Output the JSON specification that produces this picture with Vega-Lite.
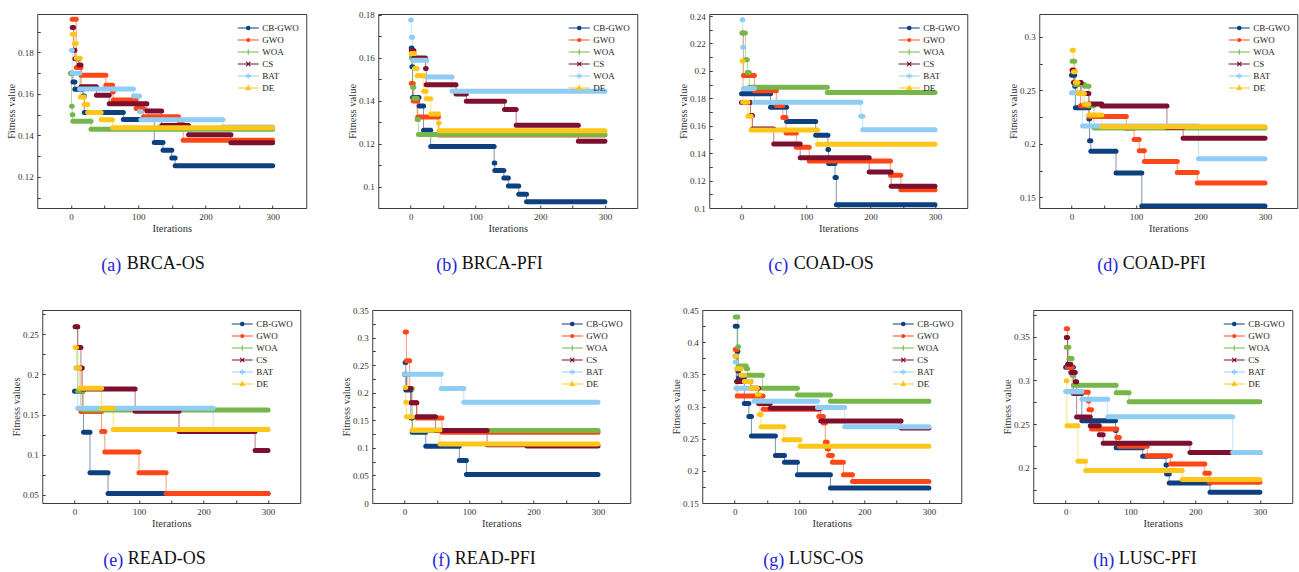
{
  "$schema": "https://vega.github.io/schema/vega-lite/v6.json",
  "padding": {"left": 5, "top": 10, "right": 4, "bottom": 2},
  "config": {
    "font": "Liberation Serif",
    "view": {"stroke": "#3c3c3c", "strokeWidth": 1},
    "axis": {"domain": false, "grid": false, "tickColor": "#3c3c3c", "tickSize": -3, "labelFont": "Liberation Serif", "labelFontSize": 9, "labelColor": "#333333", "titleFont": "Liberation Serif", "titleFontSize": 10.5, "titleFontWeight": "normal", "titleColor": "#333333", "labelPadding": 7},
    "axisX": {"titlePadding": 2},
    "axisY": {"titlePadding": 2, "minExtent": 19, "maxExtent": 19},
    "legend": {"symbolSize": 144, "labelOffset": 7, "rowPadding": -1, "offset": 7, "padding": 0, "labelFont": "Liberation Serif", "labelFontSize": 9, "labelColor": "#222222", "symbolStrokeWidth": 1.1},
    "title": {"orient": "bottom", "anchor": "start", "frame": "group", "font": "Liberation Serif", "fontSize": 18, "fontWeight": "normal", "color": "#2323dc", "offset": 23},
    "style": {"group-title": {"font": "Liberation Serif", "fontSize": 18, "fontWeight": "normal"}}
  },
  "datasets": {
    "a": [
      {"s":"CB-GWO","x":0,"x2":3,"y":0.170},{"s":"CB-GWO","x":3,"x2":6,"y":0.1657},{"s":"CB-GWO","x":6,"x2":18,"y":0.1622},{"s":"CB-GWO","x":18,"x2":20,"y":0.159},{"s":"CB-GWO","x":20,"x2":78,"y":0.151},{"s":"CB-GWO","x":78,"x2":124,"y":0.1477},{"s":"CB-GWO","x":124,"x2":137,"y":0.1366},{"s":"CB-GWO","x":137,"x2":150,"y":0.1328},{"s":"CB-GWO","x":150,"x2":155,"y":0.1291},{"s":"CB-GWO","x":155,"x2":300,"y":0.1254},
      {"s":"GWO","x":2,"x2":8,"y":0.196},{"s":"GWO","x":8,"x2":15,"y":0.1727},{"s":"GWO","x":15,"x2":52,"y":0.169},{"s":"GWO","x":52,"x2":62,"y":0.1642},{"s":"GWO","x":62,"x2":63,"y":0.1609},{"s":"GWO","x":63,"x2":97,"y":0.157},{"s":"GWO","x":97,"x2":108,"y":0.153},{"s":"GWO","x":108,"x2":160,"y":0.149},{"s":"GWO","x":160,"x2":167,"y":0.1452},{"s":"GWO","x":167,"x2":300,"y":0.1376},
      {"s":"WOA","x":0,"x2":1,"y":0.17},{"s":"WOA","x":1,"x2":2,"y":0.154},{"s":"WOA","x":2,"x2":3,"y":0.150},{"s":"WOA","x":3,"x2":30,"y":0.1468},{"s":"WOA","x":30,"x2":300,"y":0.143},
      {"s":"CS","x":2,"x2":4,"y":0.192},{"s":"CS","x":4,"x2":6,"y":0.181},{"s":"CS","x":6,"x2":12,"y":0.1769},{"s":"CS","x":12,"x2":15,"y":0.1739},{"s":"CS","x":15,"x2":38,"y":0.1634},{"s":"CS","x":38,"x2":57,"y":0.1593},{"s":"CS","x":57,"x2":113,"y":0.1552},{"s":"CS","x":113,"x2":135,"y":0.1518},{"s":"CS","x":135,"x2":175,"y":0.1448},{"s":"CS","x":175,"x2":238,"y":0.1403},{"s":"CS","x":238,"x2":300,"y":0.1364},
      {"s":"BAT","x":1,"x2":2,"y":0.181},{"s":"BAT","x":2,"x2":13,"y":0.170},{"s":"BAT","x":13,"x2":93,"y":0.1624},{"s":"BAT","x":93,"x2":102,"y":0.159},{"s":"BAT","x":102,"x2":104,"y":0.1515},{"s":"BAT","x":104,"x2":226,"y":0.1475},{"s":"BAT","x":226,"x2":300,"y":0.144},
      {"s":"DE","x":2,"x2":5,"y":0.1888},{"s":"DE","x":5,"x2":8,"y":0.1843},{"s":"DE","x":8,"x2":14,"y":0.1772},{"s":"DE","x":14,"x2":20,"y":0.1585},{"s":"DE","x":20,"x2":25,"y":0.1549},{"s":"DE","x":25,"x2":45,"y":0.151},{"s":"DE","x":45,"x2":62,"y":0.1475},{"s":"DE","x":62,"x2":300,"y":0.1437}
    ],
    "b": [
      {"s":"CB-GWO","x":1,"x2":2,"y":0.1645},{"s":"CB-GWO","x":2,"x2":3,"y":0.1557},{"s":"CB-GWO","x":3,"x2":13,"y":0.1414},{"s":"CB-GWO","x":13,"x2":20,"y":0.1375},{"s":"CB-GWO","x":20,"x2":31,"y":0.1262},{"s":"CB-GWO","x":31,"x2":129,"y":0.1186},{"s":"CB-GWO","x":129,"x2":130,"y":0.111},{"s":"CB-GWO","x":130,"x2":144,"y":0.1074},{"s":"CB-GWO","x":144,"x2":151,"y":0.104},{"s":"CB-GWO","x":151,"x2":167,"y":0.1002},{"s":"CB-GWO","x":167,"x2":179,"y":0.0964},{"s":"CB-GWO","x":179,"x2":300,"y":0.0929},
      {"s":"GWO","x":1,"x2":4,"y":0.1479},{"s":"GWO","x":4,"x2":11,"y":0.1398},{"s":"GWO","x":11,"x2":43,"y":0.1324},{"s":"GWO","x":43,"x2":300,"y":0.124},
      {"s":"WOA","x":1,"x2":3,"y":0.16},{"s":"WOA","x":3,"x2":5,"y":0.1462},{"s":"WOA","x":5,"x2":10,"y":0.1411},{"s":"WOA","x":10,"x2":12,"y":0.1312},{"s":"WOA","x":12,"x2":300,"y":0.1242},
      {"s":"CS","x":1,"x2":5,"y":0.1633},{"s":"CS","x":5,"x2":23,"y":0.1598},{"s":"CS","x":23,"x2":24,"y":0.1549},{"s":"CS","x":24,"x2":70,"y":0.1474},{"s":"CS","x":70,"x2":86,"y":0.1431},{"s":"CS","x":86,"x2":145,"y":0.1397},{"s":"CS","x":145,"x2":163,"y":0.1358},{"s":"CS","x":163,"x2":259,"y":0.1285},{"s":"CS","x":259,"x2":300,"y":0.1211},
      {"s":"BAT","x":0,"x2":1,"y":0.1775},{"s":"BAT","x":1,"x2":3,"y":0.1695},{"s":"BAT","x":3,"x2":25,"y":0.1588},{"s":"BAT","x":25,"x2":64,"y":0.151},{"s":"BAT","x":64,"x2":300,"y":0.1443},
      {"s":"DE","x":1,"x2":6,"y":0.1619},{"s":"DE","x":6,"x2":10,"y":0.1549},{"s":"DE","x":10,"x2":20,"y":0.1516},{"s":"DE","x":20,"x2":24,"y":0.1443},{"s":"DE","x":24,"x2":31,"y":0.1409},{"s":"DE","x":31,"x2":43,"y":0.1338},{"s":"DE","x":43,"x2":44,"y":0.1296},{"s":"DE","x":44,"x2":300,"y":0.126}
    ],
    "c": [
      {"s":"CB-GWO","x":0,"x2":45,"y":0.1834},{"s":"CB-GWO","x":45,"x2":70,"y":0.1735},{"s":"CB-GWO","x":70,"x2":115,"y":0.1631},{"s":"CB-GWO","x":115,"x2":134,"y":0.153},{"s":"CB-GWO","x":134,"x2":135,"y":0.1427},{"s":"CB-GWO","x":135,"x2":145,"y":0.1325},{"s":"CB-GWO","x":145,"x2":147,"y":0.1222},{"s":"CB-GWO","x":147,"x2":300,"y":0.1024},
      {"s":"GWO","x":1,"x2":3,"y":0.2277},{"s":"GWO","x":3,"x2":20,"y":0.1966},{"s":"GWO","x":20,"x2":54,"y":0.1855},{"s":"GWO","x":54,"x2":64,"y":0.1747},{"s":"GWO","x":64,"x2":69,"y":0.166},{"s":"GWO","x":69,"x2":85,"y":0.1547},{"s":"GWO","x":85,"x2":105,"y":0.1443},{"s":"GWO","x":105,"x2":231,"y":0.1342},{"s":"GWO","x":231,"x2":247,"y":0.1239},{"s":"GWO","x":247,"x2":300,"y":0.1133},
      {"s":"WOA","x":1,"x2":6,"y":0.2277},{"s":"WOA","x":6,"x2":9,"y":0.2082},{"s":"WOA","x":9,"x2":12,"y":0.1988},{"s":"WOA","x":12,"x2":133,"y":0.188},{"s":"WOA","x":133,"x2":300,"y":0.1843},
      {"s":"CS","x":0,"x2":14,"y":0.1769},{"s":"CS","x":14,"x2":17,"y":0.1675},{"s":"CS","x":17,"x2":50,"y":0.1576},{"s":"CS","x":50,"x2":91,"y":0.1467},{"s":"CS","x":91,"x2":198,"y":0.1366},{"s":"CS","x":198,"x2":232,"y":0.1263},{"s":"CS","x":232,"x2":300,"y":0.1159},
      {"s":"BAT","x":1,"x2":2,"y":0.2373},{"s":"BAT","x":2,"x2":3,"y":0.2173},{"s":"BAT","x":3,"x2":20,"y":0.1872},{"s":"BAT","x":20,"x2":185,"y":0.1771},{"s":"BAT","x":185,"x2":188,"y":0.167},{"s":"BAT","x":188,"x2":300,"y":0.1571},
      {"s":"DE","x":1,"x2":2,"y":0.2072},{"s":"DE","x":2,"x2":10,"y":0.1771},{"s":"DE","x":10,"x2":15,"y":0.167},{"s":"DE","x":15,"x2":118,"y":0.1569},{"s":"DE","x":118,"x2":300,"y":0.1465}
    ],
    "d": [
      {"s":"CB-GWO","x":0,"x2":5,"y":0.2643},{"s":"CB-GWO","x":5,"x2":6,"y":0.254},{"s":"CB-GWO","x":6,"x2":27,"y":0.2339},{"s":"CB-GWO","x":27,"x2":28,"y":0.2233},{"s":"CB-GWO","x":28,"x2":30,"y":0.2028},{"s":"CB-GWO","x":30,"x2":69,"y":0.1932},{"s":"CB-GWO","x":69,"x2":109,"y":0.1727},{"s":"CB-GWO","x":109,"x2":300,"y":0.1419},
      {"s":"GWO","x":1,"x2":5,"y":0.2683},{"s":"GWO","x":5,"x2":14,"y":0.2575},{"s":"GWO","x":14,"x2":27,"y":0.2357},{"s":"GWO","x":27,"x2":85,"y":0.2255},{"s":"GWO","x":85,"x2":97,"y":0.2145},{"s":"GWO","x":97,"x2":105,"y":0.204},{"s":"GWO","x":105,"x2":113,"y":0.1935},{"s":"GWO","x":113,"x2":164,"y":0.1835},{"s":"GWO","x":164,"x2":195,"y":0.1733},{"s":"GWO","x":195,"x2":300,"y":0.1634},
      {"s":"WOA","x":1,"x2":5,"y":0.2773},{"s":"WOA","x":5,"x2":20,"y":0.2556},{"s":"WOA","x":20,"x2":27,"y":0.254},{"s":"WOA","x":27,"x2":35,"y":0.2357},{"s":"WOA","x":35,"x2":300,"y":0.2148},
      {"s":"CS","x":1,"x2":3,"y":0.269},{"s":"CS","x":3,"x2":15,"y":0.2575},{"s":"CS","x":15,"x2":27,"y":0.2472},{"s":"CS","x":27,"x2":47,"y":0.2372},{"s":"CS","x":47,"x2":148,"y":0.2355},{"s":"CS","x":148,"x2":173,"y":0.2152},{"s":"CS","x":173,"x2":300,"y":0.2053},
      {"s":"BAT","x":0,"x2":17,"y":0.2478},{"s":"BAT","x":17,"x2":197,"y":0.2168},{"s":"BAT","x":197,"x2":300,"y":0.186},
      {"s":"DE","x":1,"x2":3,"y":0.2876},{"s":"DE","x":3,"x2":6,"y":0.2675},{"s":"DE","x":6,"x2":10,"y":0.2575},{"s":"DE","x":10,"x2":20,"y":0.2472},{"s":"DE","x":20,"x2":27,"y":0.237},{"s":"DE","x":27,"x2":47,"y":0.227},{"s":"DE","x":47,"x2":300,"y":0.2161}
    ],
    "e": [
      {"s":"CB-GWO","x":0,"x2":13,"y":0.1789},{"s":"CB-GWO","x":13,"x2":14,"y":0.1537},{"s":"CB-GWO","x":14,"x2":24,"y":0.1281},{"s":"CB-GWO","x":24,"x2":52,"y":0.0777},{"s":"CB-GWO","x":52,"x2":300,"y":0.0517},
      {"s":"GWO","x":4,"x2":10,"y":0.2079},{"s":"GWO","x":10,"x2":42,"y":0.1537},{"s":"GWO","x":42,"x2":47,"y":0.129},{"s":"GWO","x":47,"x2":100,"y":0.1033},{"s":"GWO","x":100,"x2":142,"y":0.0777},{"s":"GWO","x":142,"x2":300,"y":0.0517},
      {"s":"WOA","x":1,"x2":5,"y":0.2591},{"s":"WOA","x":5,"x2":13,"y":0.1789},{"s":"WOA","x":13,"x2":300,"y":0.1558},
      {"s":"CS","x":1,"x2":5,"y":0.2591},{"s":"CS","x":5,"x2":10,"y":0.2335},{"s":"CS","x":10,"x2":12,"y":0.2079},{"s":"CS","x":12,"x2":94,"y":0.1818},{"s":"CS","x":94,"x2":162,"y":0.1541},{"s":"CS","x":162,"x2":280,"y":0.129},{"s":"CS","x":280,"x2":300,"y":0.1054},
      {"s":"BAT","x":2,"x2":5,"y":0.2079},{"s":"BAT","x":5,"x2":215,"y":0.1578},{"s":"BAT","x":215,"x2":300,"y":0.1314},
      {"s":"DE","x":1,"x2":3,"y":0.2335},{"s":"DE","x":3,"x2":8,"y":0.2079},{"s":"DE","x":8,"x2":42,"y":0.1826},{"s":"DE","x":42,"x2":60,"y":0.1578},{"s":"DE","x":60,"x2":300,"y":0.1314}
    ],
    "f": [
      {"s":"CB-GWO","x":1,"x2":2,"y":0.2548},{"s":"CB-GWO","x":2,"x2":10,"y":0.2048},{"s":"CB-GWO","x":10,"x2":12,"y":0.1542},{"s":"CB-GWO","x":12,"x2":33,"y":0.1283},{"s":"CB-GWO","x":33,"x2":85,"y":0.103},{"s":"CB-GWO","x":85,"x2":96,"y":0.0771},{"s":"CB-GWO","x":96,"x2":300,"y":0.0518},
      {"s":"GWO","x":1,"x2":3,"y":0.3102},{"s":"GWO","x":3,"x2":8,"y":0.2578},{"s":"GWO","x":8,"x2":10,"y":0.2078},{"s":"GWO","x":10,"x2":19,"y":0.1819},{"s":"GWO","x":19,"x2":58,"y":0.1542},{"s":"GWO","x":58,"x2":300,"y":0.1283},
      {"s":"WOA","x":1,"x2":5,"y":0.2325},{"s":"WOA","x":5,"x2":12,"y":0.2075},{"s":"WOA","x":12,"x2":300,"y":0.1315},
      {"s":"CS","x":0,"x2":3,"y":0.2337},{"s":"CS","x":3,"x2":10,"y":0.2078},{"s":"CS","x":10,"x2":19,"y":0.1819},{"s":"CS","x":19,"x2":48,"y":0.1566},{"s":"CS","x":48,"x2":128,"y":0.1313},{"s":"CS","x":128,"x2":190,"y":0.1055},{"s":"CS","x":190,"x2":300,"y":0.1035},
      {"s":"BAT","x":0,"x2":57,"y":0.2337},{"s":"BAT","x":57,"x2":92,"y":0.2078},{"s":"BAT","x":92,"x2":300,"y":0.1825},
      {"s":"DE","x":1,"x2":2,"y":0.2096},{"s":"DE","x":2,"x2":3,"y":0.1825},{"s":"DE","x":3,"x2":12,"y":0.1566},{"s":"DE","x":12,"x2":55,"y":0.1325},{"s":"DE","x":55,"x2":300,"y":0.1072}
    ],
    "g": [
      {"s":"CB-GWO","x":1,"x2":4,"y":0.4247},{"s":"CB-GWO","x":4,"x2":5,"y":0.3856},{"s":"CB-GWO","x":5,"x2":6,"y":0.3552},{"s":"CB-GWO","x":6,"x2":15,"y":0.3443},{"s":"CB-GWO","x":15,"x2":22,"y":0.3046},{"s":"CB-GWO","x":22,"x2":26,"y":0.2845},{"s":"CB-GWO","x":26,"x2":63,"y":0.2541},{"s":"CB-GWO","x":63,"x2":77,"y":0.2237},{"s":"CB-GWO","x":77,"x2":97,"y":0.2134},{"s":"CB-GWO","x":97,"x2":148,"y":0.1938},{"s":"CB-GWO","x":148,"x2":300,"y":0.1735},
      {"s":"GWO","x":1,"x2":4,"y":0.3887},{"s":"GWO","x":4,"x2":44,"y":0.3165},{"s":"GWO","x":44,"x2":130,"y":0.2959},{"s":"GWO","x":130,"x2":137,"y":0.2845},{"s":"GWO","x":137,"x2":140,"y":0.2745},{"s":"GWO","x":140,"x2":143,"y":0.2443},{"s":"GWO","x":143,"x2":145,"y":0.234},{"s":"GWO","x":145,"x2":151,"y":0.2237},{"s":"GWO","x":151,"x2":168,"y":0.2134},{"s":"GWO","x":168,"x2":182,"y":0.1938},{"s":"GWO","x":182,"x2":300,"y":0.1835},
      {"s":"WOA","x":1,"x2":5,"y":0.4392},{"s":"WOA","x":5,"x2":6,"y":0.3928},{"s":"WOA","x":6,"x2":18,"y":0.3629},{"s":"WOA","x":18,"x2":20,"y":0.3588},{"s":"WOA","x":20,"x2":43,"y":0.3485},{"s":"WOA","x":43,"x2":97,"y":0.3284},{"s":"WOA","x":97,"x2":148,"y":0.318},{"s":"WOA","x":148,"x2":300,"y":0.3082},
      {"s":"CS","x":1,"x2":3,"y":0.3784},{"s":"CS","x":3,"x2":25,"y":0.3387},{"s":"CS","x":25,"x2":37,"y":0.3284},{"s":"CS","x":37,"x2":55,"y":0.3046},{"s":"CS","x":55,"x2":133,"y":0.2974},{"s":"CS","x":133,"x2":257,"y":0.2773},{"s":"CS","x":257,"x2":300,"y":0.2665},
      {"s":"BAT","x":1,"x2":2,"y":0.3691},{"s":"BAT","x":2,"x2":30,"y":0.3284},{"s":"BAT","x":30,"x2":128,"y":0.3082},{"s":"BAT","x":128,"x2":170,"y":0.2985},{"s":"BAT","x":170,"x2":300,"y":0.2686},
      {"s":"DE","x":1,"x2":3,"y":0.3784},{"s":"DE","x":3,"x2":10,"y":0.3588},{"s":"DE","x":10,"x2":15,"y":0.3485},{"s":"DE","x":15,"x2":25,"y":0.3387},{"s":"DE","x":25,"x2":35,"y":0.3284},{"s":"DE","x":35,"x2":38,"y":0.3186},{"s":"DE","x":38,"x2":41,"y":0.2876},{"s":"DE","x":41,"x2":76,"y":0.2686},{"s":"DE","x":76,"x2":101,"y":0.2485},{"s":"DE","x":101,"x2":300,"y":0.2381}
    ],
    "h": [
      {"s":"CB-GWO","x":0,"x2":12,"y":0.3151},{"s":"CB-GWO","x":12,"x2":25,"y":0.2851},{"s":"CB-GWO","x":25,"x2":77,"y":0.2539},{"s":"CB-GWO","x":77,"x2":78,"y":0.2429},{"s":"CB-GWO","x":78,"x2":119,"y":0.2232},{"s":"CB-GWO","x":119,"x2":155,"y":0.2133},{"s":"CB-GWO","x":155,"x2":156,"y":0.2034},{"s":"CB-GWO","x":156,"x2":160,"y":0.1932},{"s":"CB-GWO","x":160,"x2":223,"y":0.1829},{"s":"CB-GWO","x":223,"x2":300,"y":0.1723},
      {"s":"GWO","x":1,"x2":3,"y":0.3591},{"s":"GWO","x":3,"x2":10,"y":0.315},{"s":"GWO","x":10,"x2":35,"y":0.2866},{"s":"GWO","x":35,"x2":36,"y":0.2765},{"s":"GWO","x":36,"x2":40,"y":0.2665},{"s":"GWO","x":40,"x2":79,"y":0.2444},{"s":"GWO","x":79,"x2":83,"y":0.2349},{"s":"GWO","x":83,"x2":126,"y":0.2247},{"s":"GWO","x":126,"x2":162,"y":0.214},{"s":"GWO","x":162,"x2":215,"y":0.2046},{"s":"GWO","x":215,"x2":222,"y":0.1939},{"s":"GWO","x":222,"x2":300,"y":0.1837},
      {"s":"WOA","x":1,"x2":5,"y":0.338},{"s":"WOA","x":5,"x2":10,"y":0.325},{"s":"WOA","x":10,"x2":12,"y":0.306},{"s":"WOA","x":12,"x2":78,"y":0.2946},{"s":"WOA","x":78,"x2":98,"y":0.2858},{"s":"WOA","x":98,"x2":300,"y":0.2756},
      {"s":"CS","x":1,"x2":3,"y":0.3489},{"s":"CS","x":3,"x2":8,"y":0.3185},{"s":"CS","x":8,"x2":15,"y":0.309},{"s":"CS","x":15,"x2":17,"y":0.2984},{"s":"CS","x":17,"x2":38,"y":0.2581},{"s":"CS","x":38,"x2":52,"y":0.2482},{"s":"CS","x":52,"x2":58,"y":0.238},{"s":"CS","x":58,"x2":192,"y":0.2281},{"s":"CS","x":192,"x2":300,"y":0.2178},
      {"s":"BAT","x":0,"x2":25,"y":0.2874},{"s":"BAT","x":25,"x2":65,"y":0.2786},{"s":"BAT","x":65,"x2":258,"y":0.2585},{"s":"BAT","x":258,"x2":300,"y":0.2178},
      {"s":"DE","x":1,"x2":2,"y":0.2995},{"s":"DE","x":2,"x2":19,"y":0.2482},{"s":"DE","x":19,"x2":31,"y":0.2076},{"s":"DE","x":31,"x2":180,"y":0.197},{"s":"DE","x":180,"x2":300,"y":0.1867}
    ]
  },
  "vconcat": [
    {
      "hconcat": [
        {
          "title": {"text": "BRCA-OS", "color": "#111111", "font": "Liberation Serif", "fontSize": 18, "fontWeight": "normal", "frame": "bounds", "dx": 121, "offset": -20},
          "resolve": {"scale": {"color": "independent", "shape": "independent"}, "legend": {"color": "independent", "shape": "independent"}},
          "vconcat": [{
          "width": 269, "height": 194,
          "data": {"name": "a"},
          "title": {"text": "(a)", "dx": 64},
          "encoding": {
            "x": {"field": "x", "type": "quantitative", "scale": {"domain": [-50, 350], "nice": false, "zero": false}, "axis": {"title": "Iterations", "values": [0, 50, 100, 150, 200, 250, 300], "labelExpr": "datum.value % 100 == 0 ? datum.label : ''"}},
            "y": {"field": "y", "type": "quantitative", "scale": {"domain": [0.105, 0.1985], "nice": false, "zero": false}, "axis": {"title": "Fitness value", "values": [0.11, 0.12, 0.13, 0.14, 0.15, 0.16, 0.17, 0.18, 0.19], "labelExpr": "indexof([0.12, 0.14, 0.16, 0.18], datum.value) >= 0 ? format(datum.value, '~g') : ''"}},
            "color": {"field": "s", "type": "nominal", "scale": {"domain": ["CB-GWO", "GWO", "WOA", "CS", "BAT", "DE"], "range": ["#0e3f7e", "#ff4616", "#77b64a", "#7d0f2f", "#8fcdf5", "#ffc61a"]}, "legend": {"title": null, "orient": "top-right", "symbolOpacity": 1}}
          },
          "layer": [
            {"mark": {"type": "point", "filled": false, "opacity": 0, "strokeWidth": 1.1, "clip": true}, "encoding": {"shape": {"field": "s", "type": "nominal", "legend": {"title": null, "orient": "top-right", "symbolOpacity": 1}, "scale": {"domain": ["CB-GWO", "GWO", "WOA", "CS", "BAT", "DE"], "range": ["M-1.75,0H1.75M-0.3,0A0.3,0.3,0,1,0,0.3,0A0.3,0.3,0,1,0,-0.3,0ZM-0.12,0A0.12,0.12,0,1,0,0.12,0A0.12,0.12,0,1,0,-0.12,0Z", "M-1.75,0H1.75M-0.25,0A0.25,0.25,0,1,0,0.25,0A0.25,0.25,0,1,0,-0.25,0ZM-0.1,0A0.1,0.1,0,1,0,0.1,0A0.1,0.1,0,1,0,-0.1,0Z", "M-1.75,0H1.75M0,-0.45V0.45", "M-1.75,0H1.75M-0.35,-0.35L0.35,0.35M-0.35,0.35L0.35,-0.35", "M-1.75,0H1.75M0,-0.45V0.45M-0.39,-0.22L0.39,0.22M-0.39,0.22L0.39,-0.22", "M-1.75,0H1.75M0,-0.4L0.36,0.24L-0.36,0.24ZM0,-0.15L0.13,0.09L-0.13,0.09Z"]}}}},
            {"mark": {"type": "line", "interpolate": "step-after", "strokeWidth": 1, "opacity": 0.55, "clip": true}},
            {"mark": {"type": "rule", "strokeWidth": 5, "strokeCap": "round", "clip": true}, "encoding": {"x2": {"field": "x2"}}}
          ]
          }]
        },
        {
          "title": {"text": "BRCA-PFI", "color": "#111111", "font": "Liberation Serif", "fontSize": 18, "fontWeight": "normal", "frame": "bounds", "dx": 115, "offset": -20},
          "resolve": {"scale": {"color": "independent", "shape": "independent"}, "legend": {"color": "independent", "shape": "independent"}},
          "vconcat": [{
          "width": 259, "height": 194,
          "data": {"name": "b"},
          "title": {"text": "(b)", "dx": 58},
          "encoding": {
            "x": {"field": "x", "type": "quantitative", "scale": {"domain": [-50, 350], "nice": false, "zero": false}, "axis": {"title": "Iterations", "values": [0, 50, 100, 150, 200, 250, 300], "labelExpr": "datum.value % 100 == 0 ? datum.label : ''"}},
            "y": {"field": "y", "type": "quantitative", "scale": {"domain": [0.09, 0.1803], "nice": false, "zero": false}, "axis": {"title": "Fitness value", "values": [0.09, 0.1, 0.11, 0.12, 0.13, 0.14, 0.15, 0.16, 0.17, 0.18], "labelExpr": "indexof([0.1, 0.12, 0.14, 0.16, 0.18], datum.value) >= 0 ? format(datum.value, '~g') : ''"}},
            "color": {"field": "s", "type": "nominal", "scale": {"domain": ["CB-GWO", "GWO", "WOA", "CS", "BAT", "DE"], "range": ["#0e3f7e", "#ff4616", "#77b64a", "#7d0f2f", "#8fcdf5", "#ffc61a"]}, "legend": {"title": null, "orient": "top-right", "symbolOpacity": 1, "labelExpr": "datum.label == 'BAT' ? 'WOA' : datum.label"}}
          },
          "layer": [
            {"mark": {"type": "point", "filled": false, "opacity": 0, "strokeWidth": 1.1, "clip": true}, "encoding": {"shape": {"field": "s", "type": "nominal", "legend": {"title": null, "orient": "top-right", "symbolOpacity": 1, "labelExpr": "datum.label == 'BAT' ? 'WOA' : datum.label"}, "scale": {"domain": ["CB-GWO", "GWO", "WOA", "CS", "BAT", "DE"], "range": ["M-1.75,0H1.75M-0.3,0A0.3,0.3,0,1,0,0.3,0A0.3,0.3,0,1,0,-0.3,0ZM-0.12,0A0.12,0.12,0,1,0,0.12,0A0.12,0.12,0,1,0,-0.12,0Z", "M-1.75,0H1.75M-0.25,0A0.25,0.25,0,1,0,0.25,0A0.25,0.25,0,1,0,-0.25,0ZM-0.1,0A0.1,0.1,0,1,0,0.1,0A0.1,0.1,0,1,0,-0.1,0Z", "M-1.75,0H1.75M0,-0.45V0.45", "M-1.75,0H1.75M-0.35,-0.35L0.35,0.35M-0.35,0.35L0.35,-0.35", "M-1.75,0H1.75M0,-0.45V0.45M-0.39,-0.22L0.39,0.22M-0.39,0.22L0.39,-0.22", "M-1.75,0H1.75M0,-0.4L0.36,0.24L-0.36,0.24ZM0,-0.15L0.13,0.09L-0.13,0.09Z"]}}}},
            {"mark": {"type": "line", "interpolate": "step-after", "strokeWidth": 1, "opacity": 0.55, "clip": true}},
            {"mark": {"type": "rule", "strokeWidth": 5, "strokeCap": "round", "clip": true}, "encoding": {"x2": {"field": "x2"}}}
          ]
          }]
        },
        {
          "title": {"text": "COAD-OS", "color": "#111111", "font": "Liberation Serif", "fontSize": 18, "fontWeight": "normal", "frame": "bounds", "dx": 116, "offset": -20},
          "resolve": {"scale": {"color": "independent", "shape": "independent"}, "legend": {"color": "independent", "shape": "independent"}},
          "vconcat": [{
          "width": 258, "height": 194,
          "data": {"name": "c"},
          "title": {"text": "(c)", "dx": 59},
          "encoding": {
            "x": {"field": "x", "type": "quantitative", "scale": {"domain": [-50, 350], "nice": false, "zero": false}, "axis": {"title": "Iterations", "values": [0, 50, 100, 150, 200, 250, 300], "labelExpr": "datum.value % 100 == 0 ? datum.label : ''"}},
            "y": {"field": "y", "type": "quantitative", "scale": {"domain": [0.1, 0.2415], "nice": false, "zero": false}, "axis": {"title": "Fitness value", "values": [0.1, 0.11, 0.12, 0.13, 0.14, 0.15, 0.16, 0.17, 0.18, 0.19, 0.2, 0.21, 0.22, 0.23, 0.24], "labelExpr": "indexof([0.1, 0.12, 0.14, 0.16, 0.18, 0.2, 0.22, 0.24], datum.value) >= 0 ? format(datum.value, '~g') : ''"}},
            "color": {"field": "s", "type": "nominal", "scale": {"domain": ["CB-GWO", "GWO", "WOA", "CS", "BAT", "DE"], "range": ["#0e3f7e", "#ff4616", "#77b64a", "#7d0f2f", "#8fcdf5", "#ffc61a"]}, "legend": {"title": null, "orient": "top-right", "symbolOpacity": 1}}
          },
          "layer": [
            {"mark": {"type": "point", "filled": false, "opacity": 0, "strokeWidth": 1.1, "clip": true}, "encoding": {"shape": {"field": "s", "type": "nominal", "legend": {"title": null, "orient": "top-right", "symbolOpacity": 1}, "scale": {"domain": ["CB-GWO", "GWO", "WOA", "CS", "BAT", "DE"], "range": ["M-1.75,0H1.75M-0.3,0A0.3,0.3,0,1,0,0.3,0A0.3,0.3,0,1,0,-0.3,0ZM-0.12,0A0.12,0.12,0,1,0,0.12,0A0.12,0.12,0,1,0,-0.12,0Z", "M-1.75,0H1.75M-0.25,0A0.25,0.25,0,1,0,0.25,0A0.25,0.25,0,1,0,-0.25,0ZM-0.1,0A0.1,0.1,0,1,0,0.1,0A0.1,0.1,0,1,0,-0.1,0Z", "M-1.75,0H1.75M0,-0.45V0.45", "M-1.75,0H1.75M-0.35,-0.35L0.35,0.35M-0.35,0.35L0.35,-0.35", "M-1.75,0H1.75M0,-0.45V0.45M-0.39,-0.22L0.39,0.22M-0.39,0.22L0.39,-0.22", "M-1.75,0H1.75M0,-0.4L0.36,0.24L-0.36,0.24ZM0,-0.15L0.13,0.09L-0.13,0.09Z"]}}}},
            {"mark": {"type": "line", "interpolate": "step-after", "strokeWidth": 1, "opacity": 0.55, "clip": true}},
            {"mark": {"type": "rule", "strokeWidth": 5, "strokeCap": "round", "clip": true}, "encoding": {"x2": {"field": "x2"}}}
          ]
          }]
        },
        {
          "title": {"text": "COAD-PFI", "color": "#111111", "font": "Liberation Serif", "fontSize": 18, "fontWeight": "normal", "frame": "bounds", "dx": 115, "offset": -20},
          "resolve": {"scale": {"color": "independent", "shape": "independent"}, "legend": {"color": "independent", "shape": "independent"}},
          "vconcat": [{
          "width": 258, "height": 194,
          "data": {"name": "d"},
          "title": {"text": "(d)", "dx": 58},
          "encoding": {
            "x": {"field": "x", "type": "quantitative", "scale": {"domain": [-50, 350], "nice": false, "zero": false}, "axis": {"title": "Iterations", "values": [0, 50, 100, 150, 200, 250, 300], "labelExpr": "datum.value % 100 == 0 ? datum.label : ''"}},
            "y": {"field": "y", "type": "quantitative", "scale": {"domain": [0.14, 0.3215], "nice": false, "zero": false}, "axis": {"title": "Fitness value", "values": [0.15, 0.175, 0.2, 0.225, 0.25, 0.275, 0.3], "labelExpr": "indexof([0.15, 0.2, 0.25, 0.3], datum.value) >= 0 ? format(datum.value, '~g') : ''"}},
            "color": {"field": "s", "type": "nominal", "scale": {"domain": ["CB-GWO", "GWO", "WOA", "CS", "BAT", "DE"], "range": ["#0e3f7e", "#ff4616", "#77b64a", "#7d0f2f", "#8fcdf5", "#ffc61a"]}, "legend": {"title": null, "orient": "top-right", "symbolOpacity": 1}}
          },
          "layer": [
            {"mark": {"type": "point", "filled": false, "opacity": 0, "strokeWidth": 1.1, "clip": true}, "encoding": {"shape": {"field": "s", "type": "nominal", "legend": {"title": null, "orient": "top-right", "symbolOpacity": 1}, "scale": {"domain": ["CB-GWO", "GWO", "WOA", "CS", "BAT", "DE"], "range": ["M-1.75,0H1.75M-0.3,0A0.3,0.3,0,1,0,0.3,0A0.3,0.3,0,1,0,-0.3,0ZM-0.12,0A0.12,0.12,0,1,0,0.12,0A0.12,0.12,0,1,0,-0.12,0Z", "M-1.75,0H1.75M-0.25,0A0.25,0.25,0,1,0,0.25,0A0.25,0.25,0,1,0,-0.25,0ZM-0.1,0A0.1,0.1,0,1,0,0.1,0A0.1,0.1,0,1,0,-0.1,0Z", "M-1.75,0H1.75M0,-0.45V0.45", "M-1.75,0H1.75M-0.35,-0.35L0.35,0.35M-0.35,0.35L0.35,-0.35", "M-1.75,0H1.75M0,-0.45V0.45M-0.39,-0.22L0.39,0.22M-0.39,0.22L0.39,-0.22", "M-1.75,0H1.75M0,-0.4L0.36,0.24L-0.36,0.24ZM0,-0.15L0.13,0.09L-0.13,0.09Z"]}}}},
            {"mark": {"type": "line", "interpolate": "step-after", "strokeWidth": 1, "opacity": 0.55, "clip": true}},
            {"mark": {"type": "rule", "strokeWidth": 5, "strokeCap": "round", "clip": true}, "encoding": {"x2": {"field": "x2"}}}
          ]
          }]
        }
      ],
      "spacing": 39,
      "resolve": {"scale": {"color": "independent", "shape": "independent"}, "legend": {"color": "independent", "shape": "independent"}}
    },
    {
      "hconcat": [
        {
          "title": {"text": "READ-OS", "color": "#111111", "font": "Liberation Serif", "fontSize": 18, "fontWeight": "normal", "frame": "bounds", "dx": 117, "offset": -20},
          "resolve": {"scale": {"color": "independent", "shape": "independent"}, "legend": {"color": "independent", "shape": "independent"}},
          "vconcat": [{
          "width": 258, "height": 193,
          "data": {"name": "e"},
          "title": {"text": "(e)", "dx": 61},
          "encoding": {
            "x": {"field": "x", "type": "quantitative", "scale": {"domain": [-50, 350], "nice": false, "zero": false}, "axis": {"title": "Iterations", "values": [0, 50, 100, 150, 200, 250, 300], "labelExpr": "datum.value % 100 == 0 ? datum.label : ''"}},
            "y": {"field": "y", "type": "quantitative", "scale": {"domain": [0.04, 0.28], "nice": false, "zero": false}, "axis": {"title": "Fitness values", "values": [0.05, 0.075, 0.1, 0.125, 0.15, 0.175, 0.2, 0.225, 0.25, 0.275], "labelExpr": "indexof([0.05, 0.1, 0.15, 0.2, 0.25], datum.value) >= 0 ? format(datum.value, '~g') : ''"}},
            "color": {"field": "s", "type": "nominal", "scale": {"domain": ["CB-GWO", "GWO", "WOA", "CS", "BAT", "DE"], "range": ["#0e3f7e", "#ff4616", "#77b64a", "#7d0f2f", "#8fcdf5", "#ffc61a"]}, "legend": {"title": null, "orient": "top-right", "symbolOpacity": 1}}
          },
          "layer": [
            {"mark": {"type": "point", "filled": false, "opacity": 0, "strokeWidth": 1.1, "clip": true}, "encoding": {"shape": {"field": "s", "type": "nominal", "legend": {"title": null, "orient": "top-right", "symbolOpacity": 1}, "scale": {"domain": ["CB-GWO", "GWO", "WOA", "CS", "BAT", "DE"], "range": ["M-1.75,0H1.75M-0.3,0A0.3,0.3,0,1,0,0.3,0A0.3,0.3,0,1,0,-0.3,0ZM-0.12,0A0.12,0.12,0,1,0,0.12,0A0.12,0.12,0,1,0,-0.12,0Z", "M-1.75,0H1.75M-0.25,0A0.25,0.25,0,1,0,0.25,0A0.25,0.25,0,1,0,-0.25,0ZM-0.1,0A0.1,0.1,0,1,0,0.1,0A0.1,0.1,0,1,0,-0.1,0Z", "M-1.75,0H1.75M0,-0.45V0.45", "M-1.75,0H1.75M-0.35,-0.35L0.35,0.35M-0.35,0.35L0.35,-0.35", "M-1.75,0H1.75M0,-0.45V0.45M-0.39,-0.22L0.39,0.22M-0.39,0.22L0.39,-0.22", "M-1.75,0H1.75M0,-0.4L0.36,0.24L-0.36,0.24ZM0,-0.15L0.13,0.09L-0.13,0.09Z"]}}}},
            {"mark": {"type": "line", "interpolate": "step-after", "strokeWidth": 1, "opacity": 0.55, "clip": true}},
            {"mark": {"type": "rule", "strokeWidth": 5, "strokeCap": "round", "clip": true}, "encoding": {"x2": {"field": "x2"}}}
          ]
          }]
        },
        {
          "title": {"text": "READ-PFI", "color": "#111111", "font": "Liberation Serif", "fontSize": 18, "fontWeight": "normal", "frame": "bounds", "dx": 114, "offset": -20},
          "resolve": {"scale": {"color": "independent", "shape": "independent"}, "legend": {"color": "independent", "shape": "independent"}},
          "vconcat": [{
          "width": 258, "height": 193,
          "data": {"name": "f"},
          "title": {"text": "(f)", "dx": 60},
          "encoding": {
            "x": {"field": "x", "type": "quantitative", "scale": {"domain": [-50, 350], "nice": false, "zero": false}, "axis": {"title": "Iterations", "values": [0, 50, 100, 150, 200, 250, 300], "labelExpr": "datum.value % 100 == 0 ? datum.label : ''"}},
            "y": {"field": "y", "type": "quantitative", "scale": {"domain": [0, 0.35], "nice": false, "zero": false}, "axis": {"title": "Fitness values", "values": [0, 0.025, 0.05, 0.075, 0.1, 0.125, 0.15, 0.175, 0.2, 0.225, 0.25, 0.275, 0.3, 0.325, 0.35], "labelExpr": "indexof([0, 0.05, 0.1, 0.15, 0.2, 0.25, 0.3, 0.35], datum.value) >= 0 ? format(datum.value, '~g') : ''"}},
            "color": {"field": "s", "type": "nominal", "scale": {"domain": ["CB-GWO", "GWO", "WOA", "CS", "BAT", "DE"], "range": ["#0e3f7e", "#ff4616", "#77b64a", "#7d0f2f", "#8fcdf5", "#ffc61a"]}, "legend": {"title": null, "orient": "top-right", "symbolOpacity": 1}}
          },
          "layer": [
            {"mark": {"type": "point", "filled": false, "opacity": 0, "strokeWidth": 1.1, "clip": true}, "encoding": {"shape": {"field": "s", "type": "nominal", "legend": {"title": null, "orient": "top-right", "symbolOpacity": 1}, "scale": {"domain": ["CB-GWO", "GWO", "WOA", "CS", "BAT", "DE"], "range": ["M-1.75,0H1.75M-0.3,0A0.3,0.3,0,1,0,0.3,0A0.3,0.3,0,1,0,-0.3,0ZM-0.12,0A0.12,0.12,0,1,0,0.12,0A0.12,0.12,0,1,0,-0.12,0Z", "M-1.75,0H1.75M-0.25,0A0.25,0.25,0,1,0,0.25,0A0.25,0.25,0,1,0,-0.25,0ZM-0.1,0A0.1,0.1,0,1,0,0.1,0A0.1,0.1,0,1,0,-0.1,0Z", "M-1.75,0H1.75M0,-0.45V0.45", "M-1.75,0H1.75M-0.35,-0.35L0.35,0.35M-0.35,0.35L0.35,-0.35", "M-1.75,0H1.75M0,-0.45V0.45M-0.39,-0.22L0.39,0.22M-0.39,0.22L0.39,-0.22", "M-1.75,0H1.75M0,-0.4L0.36,0.24L-0.36,0.24ZM0,-0.15L0.13,0.09L-0.13,0.09Z"]}}}},
            {"mark": {"type": "line", "interpolate": "step-after", "strokeWidth": 1, "opacity": 0.55, "clip": true}},
            {"mark": {"type": "rule", "strokeWidth": 5, "strokeCap": "round", "clip": true}, "encoding": {"x2": {"field": "x2"}}}
          ]
          }]
        },
        {
          "title": {"text": "LUSC-OS", "color": "#111111", "font": "Liberation Serif", "fontSize": 18, "fontWeight": "normal", "frame": "bounds", "dx": 118, "offset": -20},
          "resolve": {"scale": {"color": "independent", "shape": "independent"}, "legend": {"color": "independent", "shape": "independent"}},
          "vconcat": [{
          "width": 259, "height": 193,
          "data": {"name": "g"},
          "title": {"text": "(g)", "dx": 61},
          "encoding": {
            "x": {"field": "x", "type": "quantitative", "scale": {"domain": [-50, 350], "nice": false, "zero": false}, "axis": {"title": "Iterations", "values": [0, 50, 100, 150, 200, 250, 300], "labelExpr": "datum.value % 100 == 0 ? datum.label : ''"}},
            "y": {"field": "y", "type": "quantitative", "scale": {"domain": [0.15, 0.45], "nice": false, "zero": false}, "axis": {"title": "Fitness value", "values": [0.15, 0.175, 0.2, 0.225, 0.25, 0.275, 0.3, 0.325, 0.35, 0.375, 0.4, 0.425, 0.45], "labelExpr": "indexof([0.15, 0.2, 0.25, 0.3, 0.35, 0.4, 0.45], datum.value) >= 0 ? format(datum.value, '~g') : ''"}},
            "color": {"field": "s", "type": "nominal", "scale": {"domain": ["CB-GWO", "GWO", "WOA", "CS", "BAT", "DE"], "range": ["#0e3f7e", "#ff4616", "#77b64a", "#7d0f2f", "#8fcdf5", "#ffc61a"]}, "legend": {"title": null, "orient": "top-right", "symbolOpacity": 1}}
          },
          "layer": [
            {"mark": {"type": "point", "filled": false, "opacity": 0, "strokeWidth": 1.1, "clip": true}, "encoding": {"shape": {"field": "s", "type": "nominal", "legend": {"title": null, "orient": "top-right", "symbolOpacity": 1}, "scale": {"domain": ["CB-GWO", "GWO", "WOA", "CS", "BAT", "DE"], "range": ["M-1.75,0H1.75M-0.3,0A0.3,0.3,0,1,0,0.3,0A0.3,0.3,0,1,0,-0.3,0ZM-0.12,0A0.12,0.12,0,1,0,0.12,0A0.12,0.12,0,1,0,-0.12,0Z", "M-1.75,0H1.75M-0.25,0A0.25,0.25,0,1,0,0.25,0A0.25,0.25,0,1,0,-0.25,0ZM-0.1,0A0.1,0.1,0,1,0,0.1,0A0.1,0.1,0,1,0,-0.1,0Z", "M-1.75,0H1.75M0,-0.45V0.45", "M-1.75,0H1.75M-0.35,-0.35L0.35,0.35M-0.35,0.35L0.35,-0.35", "M-1.75,0H1.75M0,-0.45V0.45M-0.39,-0.22L0.39,0.22M-0.39,0.22L0.39,-0.22", "M-1.75,0H1.75M0,-0.4L0.36,0.24L-0.36,0.24ZM0,-0.15L0.13,0.09L-0.13,0.09Z"]}}}},
            {"mark": {"type": "line", "interpolate": "step-after", "strokeWidth": 1, "opacity": 0.55, "clip": true}},
            {"mark": {"type": "rule", "strokeWidth": 5, "strokeCap": "round", "clip": true}, "encoding": {"x2": {"field": "x2"}}}
          ]
          }]
        },
        {
          "title": {"text": "LUSC-PFI", "color": "#111111", "font": "Liberation Serif", "fontSize": 18, "fontWeight": "normal", "frame": "bounds", "dx": 117, "offset": -20},
          "resolve": {"scale": {"color": "independent", "shape": "independent"}, "legend": {"color": "independent", "shape": "independent"}},
          "vconcat": [{
          "width": 259, "height": 193,
          "data": {"name": "h"},
          "title": {"text": "(h)", "dx": 60},
          "encoding": {
            "x": {"field": "x", "type": "quantitative", "scale": {"domain": [-50, 350], "nice": false, "zero": false}, "axis": {"title": "Iterations", "values": [0, 50, 100, 150, 200, 250, 300], "labelExpr": "datum.value % 100 == 0 ? datum.label : ''"}},
            "y": {"field": "y", "type": "quantitative", "scale": {"domain": [0.16, 0.3804], "nice": false, "zero": false}, "axis": {"title": "Fitness value", "values": [0.175, 0.2, 0.225, 0.25, 0.275, 0.3, 0.325, 0.35, 0.375], "labelExpr": "indexof([0.2, 0.25, 0.3, 0.35], datum.value) >= 0 ? format(datum.value, '~g') : ''"}},
            "color": {"field": "s", "type": "nominal", "scale": {"domain": ["CB-GWO", "GWO", "WOA", "CS", "BAT", "DE"], "range": ["#0e3f7e", "#ff4616", "#77b64a", "#7d0f2f", "#8fcdf5", "#ffc61a"]}, "legend": {"title": null, "orient": "top-right", "symbolOpacity": 1}}
          },
          "layer": [
            {"mark": {"type": "point", "filled": false, "opacity": 0, "strokeWidth": 1.1, "clip": true}, "encoding": {"shape": {"field": "s", "type": "nominal", "legend": {"title": null, "orient": "top-right", "symbolOpacity": 1}, "scale": {"domain": ["CB-GWO", "GWO", "WOA", "CS", "BAT", "DE"], "range": ["M-1.75,0H1.75M-0.3,0A0.3,0.3,0,1,0,0.3,0A0.3,0.3,0,1,0,-0.3,0ZM-0.12,0A0.12,0.12,0,1,0,0.12,0A0.12,0.12,0,1,0,-0.12,0Z", "M-1.75,0H1.75M-0.25,0A0.25,0.25,0,1,0,0.25,0A0.25,0.25,0,1,0,-0.25,0ZM-0.1,0A0.1,0.1,0,1,0,0.1,0A0.1,0.1,0,1,0,-0.1,0Z", "M-1.75,0H1.75M0,-0.45V0.45", "M-1.75,0H1.75M-0.35,-0.35L0.35,0.35M-0.35,0.35L0.35,-0.35", "M-1.75,0H1.75M0,-0.45V0.45M-0.39,-0.22L0.39,0.22M-0.39,0.22L0.39,-0.22", "M-1.75,0H1.75M0,-0.4L0.36,0.24L-0.36,0.24ZM0,-0.15L0.13,0.09L-0.13,0.09Z"]}}}},
            {"mark": {"type": "line", "interpolate": "step-after", "strokeWidth": 1, "opacity": 0.55, "clip": true}},
            {"mark": {"type": "rule", "strokeWidth": 5, "strokeCap": "round", "clip": true}, "encoding": {"x2": {"field": "x2"}}}
          ]
          }]
        }
      ],
      "spacing": 39,
      "resolve": {"scale": {"color": "independent", "shape": "independent"}, "legend": {"color": "independent", "shape": "independent"}}
    }
  ],
  "spacing": 30,
  "center": true,
  "resolve": {"scale": {"color": "independent", "shape": "independent"}, "legend": {"color": "independent", "shape": "independent"}}
}
